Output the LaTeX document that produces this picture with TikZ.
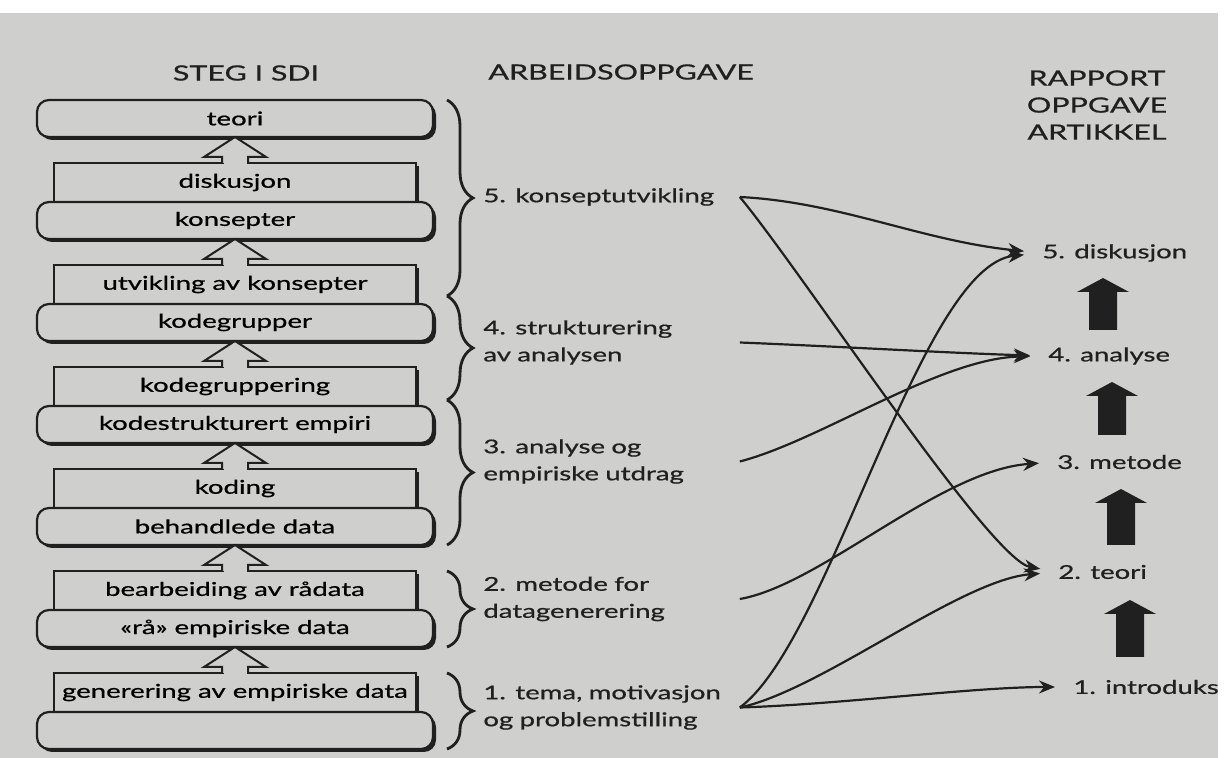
\documentclass[tikz,border=0pt]{standalone}
\usepackage{fontspec}
\setmainfont[FakeStretch=1.45,FakeBold=0.8]{Lato}
\usepackage{tikz}
\usetikzlibrary{arrows.meta,positioning,calc,shadows,decorations.pathreplacing}
\definecolor{paper}{RGB}{207,207,205}
\definecolor{ink}{RGB}{32,32,32}
% hollow up arrow from the top of a step box to the state box above it
\newcommand{\hollowup}[2]{%
  \fill[paper] ($(#1.north)+(-11.5,3)$) rectangle ($(#1.north)+(11.5,-6)$);
  \draw[draw=ink,line width=1pt,line join=miter,fill=paper] ($(#1.north)+(-13,0)$) -- ++(0,-6) -- ++(-18,0) -- (#2.south) -- ($(#1.north)+(31,-6)$) -- ++(-18,0) -- ++(0,6);}
% solid up arrow in the right column
\newcommand{\solidup}[3]{%
  \fill[ink] (#1-14,#2) -- (#1-14,#3+14) -- (#1-26,#3+14) -- (#1,#3) -- (#1+26,#3+14) -- (#1+14,#3+14) -- (#1+14,#2) -- cycle;}

\begin{document}
\begin{tikzpicture}[
  x=0.5pt, y=-0.5pt, font={\fontsize{9.5pt}{13.5pt}\selectfont}, >={Stealth[length=8pt,width=6.5pt]},
  boxshadow/.style={drop shadow={shadow xshift=1.5pt,shadow yshift=-1.5pt,fill=ink,opacity=1}},
  statebox/.style={draw=ink,line width=1.1pt,rounded corners=6pt,fill=paper,minimum width=198pt,minimum height=18.5pt,outer sep=0pt,boxshadow},
  stepbox/.style={draw=ink,line width=1.1pt,fill=paper,minimum width=181pt,minimum height=19.5pt,outer sep=0pt,boxshadow},
  task/.style={anchor=west,inner sep=0pt,text width=128pt,align=left,text=ink},
  part/.style={anchor=west,inner sep=0pt,text=ink},
  hdr/.style={font={\fontsize{10.5pt}{13.5pt}\selectfont},text=ink,inner sep=0pt},
  brc/.style={draw=ink,line width=1.4pt,decorate,decoration={brace,amplitude=13pt}},
  conn/.style={draw=ink,line width=1.1pt,->,shorten >=9pt}
]
\useasboundingbox (0,0) rectangle (1227,758);
\fill[white] (0,0) rectangle (1227,758);
\fill[paper] (0,13) rectangle (1218,758);

% left column: steps in SDI
\node[statebox] (teori) at (235,118.5) {teori};
\node[stepbox,below=13pt of teori] (disk) {diskusjon};
\node[statebox,below=0pt of disk] (kons) {konsepter};
\node[stepbox,below=13pt of kons] (utv) {utvikling av konsepter};
\node[statebox,below=0pt of utv] (kgr) {kodegrupper};
\node[stepbox,below=13pt of kgr] (kgrp) {kodegruppering};
\node[statebox,below=0pt of kgrp] (kse) {kodestrukturert empiri};
\node[stepbox,below=13pt of kse] (kod) {koding};
\node[statebox,below=0pt of kod] (beh) {behandlede data};
\node[stepbox,below=13pt of beh] (bearb) {bearbeiding av rådata};
\node[statebox,below=0pt of bearb] (raa) {«rå» empiriske data};
\node[stepbox,below=13pt of raa] (gen) {generering av empiriske data};
\node[statebox,below=0pt of gen] (grunn) {};
\hollowup{disk}{teori}
\hollowup{utv}{kons}
\hollowup{kgrp}{kgr}
\hollowup{kod}{kse}
\hollowup{bearb}{beh}
\hollowup{gen}{raa}

% braces
\draw[brc] ($(teori.north east)+(14,0)$) -- ($(kgr.north east)+(14,-8)$);
\draw[brc] ($(kgr.north east)+(14,-8)$) -- ($(kse.north east)+(14,-6)$);
\draw[brc] ($(kse.north east)+(14,-6)$) -- ($(beh.south east)+(14,0)$);
\draw[brc] ($(bearb.north east)+(31,0)$) -- ($(raa.south east)+(14,0)$);
\draw[brc] ($(gen.north east)+(31,0)$) -- ($(grunn.south east)+(14,0)$);

% middle column: tasks
\node[task] (m5) at (483,197) {5. konseptutvikling};
\node[task] (m4) at (483,342.5) {4. strukturering\\av analysen};
\node[task] (m3) at (483,461.5) {3. analyse og\\empiriske utdrag};
\node[task] (m2) at (483,599) {2. metode for\\datagenerering};
\node[task] (m1) at (483,707.5) {1. tema, motivasjon\\og problemstilling};

% right column: report parts
\node[part] (r5) at (1042,253) {5. diskusjon};
\node[part] (r4) at (1048,356) {4. analyse};
\node[part] (r3) at (1057,462) {3. metode};
\node[part] (r2) at (1058,572) {2. teori};
\node[part] (r1) at (1073,687) {1. introduks};
\solidup{1103}{330}{278}
\solidup{1112}{435}{382}
\solidup{1121}{545}{489}
\solidup{1130}{657}{600}

\draw[conn] (m5.east) .. controls +(100,5) and +(-120,-12) .. (r5.west);
\draw[conn] (m5.east) .. controls +(61,73) and +(-68,-12) .. (r2.west);
\draw[conn] (m4.east) .. controls +(100,4) and +(-100,-3) .. (r4.west);
\draw[conn] (m3.east) .. controls +(81,-21) and +(-108,2) .. (r4.west);
\draw[conn] (m2.east) .. controls +(81,-14) and +(-117,8) .. (r3.west);
\draw[conn] (m1.east) .. controls +(91,-67) and +(-122,12) .. (r5.west);
\draw[conn] (m1.east) .. controls +(81,-17) and +(-98,8) .. (r2.west);
\draw[conn] (m1.east) .. controls +(100,-3) and +(-100,0) .. (r1.west);

% headings
\node[hdr] (h1) at (246,73) {STEG I SDI};
\node[hdr,anchor=west] (h2) at (488,72) {ARBEIDSOPPGAVE};
\node[hdr,align=center] (h3) at (1097,105) {RAPPORT\\OPPGAVE\\ARTIKKEL};

\fill[white] (1218,0) rectangle (1227,758);
\end{tikzpicture}
\end{document}
